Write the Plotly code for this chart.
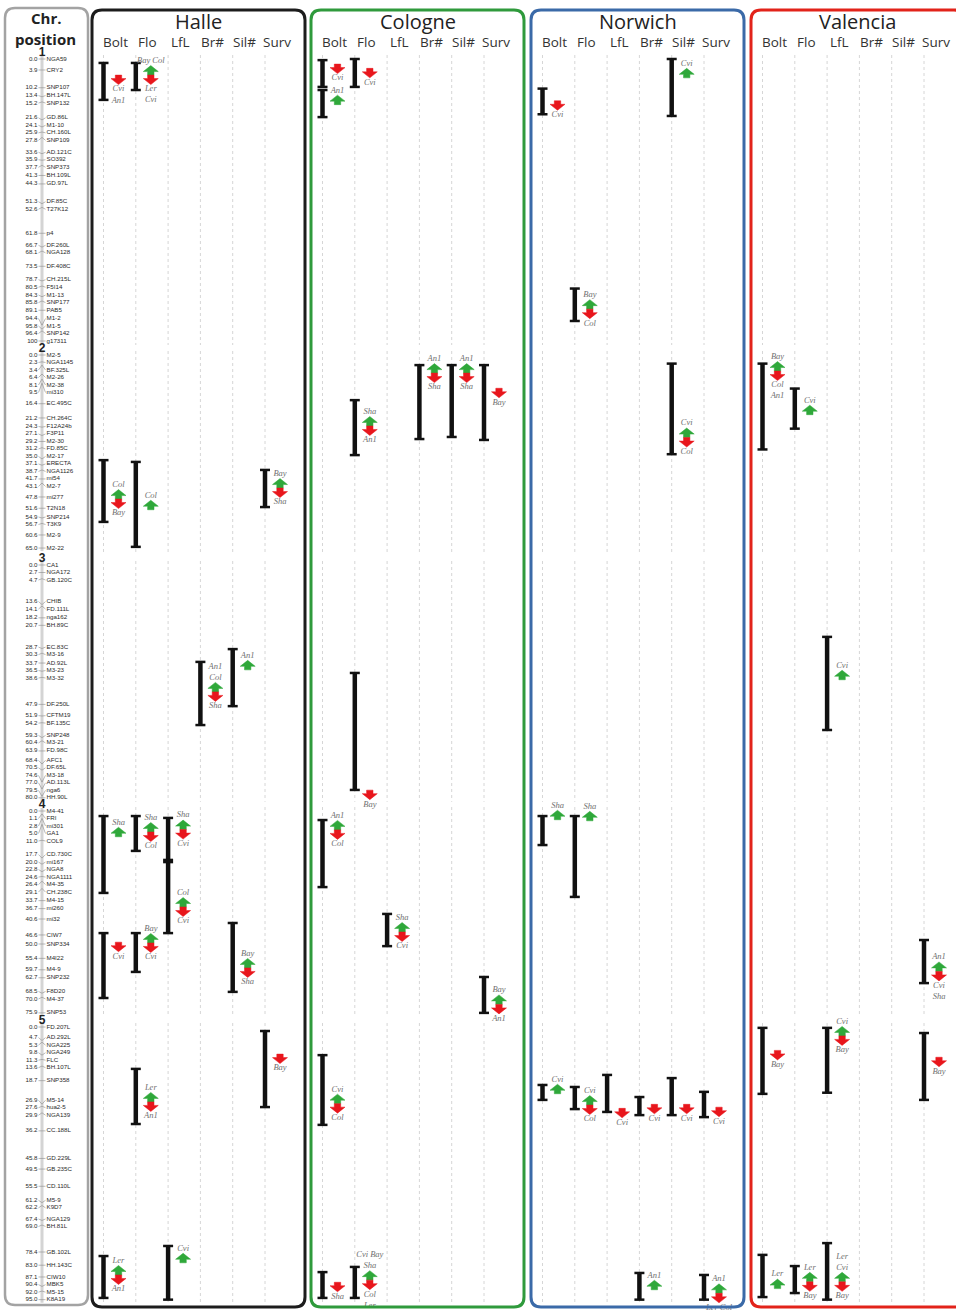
import plotly.graph_objects as go

# ------------------------------------------------------------------ data
TRAITS = ["Bolt", "Flo", "LfL", "Br#", "Sil#", "Surv"]
SITES = ["Halle", "Cologne", "Norwich", "Valencia"]

CHR1_POS = [0.0, 3.9, 10.2, 13.4, 15.2, 21.6, 24.1, 25.9, 27.8, 33.6, 35.9, 37.7, 41.3, 44.3, 51.3,
            52.6, 61.8, 66.7, 68.1, 73.5, 78.7, 80.5, 84.3, 85.8, 89.1, 94.4, 95.8, 96.4, 100]
CHR1_MARKERS = ["NGA59", "CRY2", "SNP107", "BH.147L", "SNP132", "GD.86L", "M1-10", "CH.160L", "SNP109",
                "AD.121C", "SO392", "SNP373", "BH.109L", "GD.97L", "DF.85C", "T27K12", "p4", "DF.260L",
                "NGA128", "DF.408C", "CH.215L", "F5I14", "M1-13", "SNP177", "PAB5", "M1-2", "M1-5",
                "SNP142", "g17311"]
CHR2_POS = [0.0, 2.3, 3.4, 6.4, 8.1, 9.5, 16.4, 21.2, 24.3, 27.1, 29.2, 31.2, 35.0, 37.1, 38.7, 41.7,
            43.1, 47.8, 51.6, 54.9, 56.7, 60.6, 65.0]
CHR2_MARKERS = ["M2-5", "NGA1145", "BF.325L", "M2-26", "M2-38", "mi310", "EC.495C", "CH.264C", "F12A24b",
                "F3P11", "M2-30", "FD.85C", "M2-17", "ERECTA", "NGA1126", "mi54", "M2-7", "mi277",
                "T2N18", "SNP214", "T3K9", "M2-9", "M2-22"]
CHR3_POS = [0.0, 2.7, 4.7, 13.6, 14.1, 18.2, 20.7, 28.7, 30.3, 33.7, 36.5, 38.6, 47.9, 51.9, 54.2, 59.3,
            60.4, 63.9, 68.4, 70.5, 74.6, 77.0, 79.5, 80.0]
CHR3_MARKERS = ["CA1", "NGA172", "GB.120C", "CHIB", "FD.111L", "nga162", "BH.89C", "EC.83C", "M3-16",
                "AD.92L", "M3-23", "M3-32", "DF.250L", "CFTM19", "BF.135C", "SNP248", "M3-21", "FD.98C",
                "AFC1", "DF.65L", "M3-18", "AD.113L", "nga6", "HH.90L"]
CHR4_POS = [0.0, 1.1, 2.8, 5.0, 11.0, 17.7, 20.0, 22.8, 24.6, 26.4, 29.1, 33.7, 36.7, 40.6, 46.6, 50.0,
            55.4, 59.7, 62.7, 68.5, 70.0, 75.9]
CHR4_MARKERS = ["M4-41", "FRI", "mi301", "GA1", "COL9", "CD.730C", "mi167", "NGA8", "NGA1111", "M4-35",
                "CH.238C", "M4-15", "mi260", "mi32", "CIW7", "SNP334", "M4I22", "M4-9", "SNP232",
                "F8D20", "M4-37", "SNP53"]
CHR5_POS = [0.0, 4.7, 5.3, 9.8, 11.3, 13.6, 18.7, 26.9, 27.6, 29.9, 36.2, 45.8, 49.5, 55.5, 61.2, 62.2,
            67.4, 69.0, 78.4, 83.0, 87.1, 90.4, 92.0, 95.0]
CHR5_MARKERS = ["FD.207L", "AD.292L", "NGA225", "NGA249", "FLC", "BH.107L", "SNP358", "M5-14", "hua2-5",
                "NGA139", "CC.188L", "GD.229L", "GB.235C", "CD.110L", "M5-9", "K9D7", "NGA129", "BH.81L",
                "GB.102L", "HH.143C", "CIW10", "MBK5", "M5-15", "K8A19"]

# QTL: (trait, chromosome, start cM, end cM, peak cM, increasing alleles, decreasing alleles)
HALLE_QTL = [
    ("Bolt", 1, 1.4, 14.5, 7.4, "", "Cvi|An1"),
    ("Flo", 1, 1.4, 11.0, 5.7, "Bay Col", "Ler|Cvi"),
    ("Bolt", 2, 35.4, 56.2, 48.5, "Col", "Bay"),
    ("Flo", 2, 36.0, 64.6, 50.5, "Col", ""),
    ("Surv", 2, 38.7, 51.2, 44.8, "Bay", "Sha"),
    ("Br#", 3, 33.3, 55.0, 43.6, "An1|Col", "Sha"),
    ("Sil#", 3, 28.9, 48.5, 34.4, "An1", ""),
    ("Bolt", 4, 1.9, 30.8, 7.9, "Sha", ""),
    ("Flo", 4, 1.9, 15.0, 7.9, "Sha", "Col"),
    ("LfL", 4, 2.6, 18.4, 7.0, "Sha", "Cvi"),
    ("LfL", 4, 19.2, 45.9, 36.1, "Col", "Cvi"),
    ("Bolt", 4, 45.9, 70.3, 51.1, "", "Cvi"),
    ("Flo", 4, 45.9, 60.5, 49.6, "Bay", "Cvi"),
    ("Sil#", 4, 42.1, 68.0, 59.0, "Bay", "Sha"),
    ("Surv", 5, 1.4, 27.9, 11.1, "", "Bay"),
    ("Flo", 5, 14.6, 33.8, 26.1, "Ler", "An1"),
    ("Bolt", 5, 79.8, 94.4, 86.4, "Ler", "An1"),
    ("LfL", 5, 76.3, 95.0, 80.5, "Cvi", ""),
]
COLOGNE_QTL = [
    ("Bolt", 1, 0.4, 9.9, 3.5, "", "Cvi"),
    ("Bolt", 1, 11.0, 20.6, 14.5, "An1", ""),
    ("Flo", 1, 0.0, 9.9, 5.0, "", "Cvi"),
    ("Flo", 2, 15.2, 33.7, 23.9, "Sha", "An1"),
    ("Br#", 2, 3.4, 28.3, 6.1, "An1", "Sha"),
    ("Sil#", 2, 3.4, 27.6, 6.1, "An1", "Sha"),
    ("Surv", 2, 3.4, 28.6, 12.8, "", "Bay"),
    ("Flo", 3, 37.1, 77.3, 79.0, "", "Bay"),
    ("Bolt", 4, 3.4, 28.6, 7.1, "An1", "Col"),
    ("LfL", 4, 38.7, 50.8, 45.5, "Sha", "Cvi"),
    ("Surv", 4, 62.4, 75.9, 72.7, "Bay", "An1"),
    ("Bolt", 5, 9.8, 34.1, 26.7, "Cvi", "Col"),
    ("Bolt", 5, 85.4, 94.4, 90.6, "", "Sha"),
    ("Flo", 5, 83.6, 94.4, 88.2, "Cvi Bay|Sha", "Col|Ler"),
]
NORWICH_QTL = [
    ("Bolt", 1, 10.5, 19.6, 16.5, "", "Cvi"),
    ("Sil#", 1, 0.0, 20.2, 5.0, "Cvi", ""),
    ("Flo", 1, 81.4, 92.9, 88.7, "Bay", "Col"),
    ("Sil#", 2, 2.9, 33.4, 27.8, "Cvi", "Col"),
    ("Bolt", 4, 1.9, 12.8, 1.5, "Sha", ""),
    ("Flo", 4, 1.9, 32.3, 1.9, "Sha", ""),
    ("Bolt", 5, 20.2, 25.4, 21.6, "Cvi", ""),
    ("Flo", 5, 20.9, 28.6, 27.2, "Cvi", "Col"),
    ("LfL", 5, 16.7, 29.6, 30.0, "", "Cvi"),
    ("Br#", 5, 24.4, 30.7, 28.6, "", "Cvi"),
    ("Sil#", 5, 17.8, 30.7, 28.6, "", "Cvi"),
    ("Surv", 5, 22.6, 31.4, 29.6, "", "Cvi"),
    ("Br#", 5, 85.7, 95.0, 89.9, "An1", ""),
    ("Surv", 5, 86.4, 95.0, 92.8, "An1", "Ler Col"),
]
VALENCIA_QTL = [
    ("Bolt", 2, 2.9, 31.8, 5.4, "Bay", "Col|An1"),
    ("Flo", 2, 11.3, 24.8, 18.5, "Cvi", ""),
    ("LfL", 3, 24.7, 56.7, 37.8, "Cvi", ""),
    ("Surv", 4, 48.5, 64.7, 60.3, "An1", "Cvi|Sha"),
    ("Bolt", 5, 0.3, 23.3, 9.8, "", "Bay"),
    ("LfL", 5, 0.3, 22.9, 3.1, "Cvi", "Bay"),
    ("Surv", 5, 2.1, 25.4, 12.2, "", "Bay"),
    ("Bolt", 5, 79.4, 94.1, 89.5, "Ler", ""),
    ("Flo", 5, 83.3, 92.7, 88.8, "Ler", "Bay"),
    ("LfL", 5, 75.3, 95.0, 88.8, "Ler|Cvi", "Bay"),
]

# ------------------------------------------------------------------ layout constants
PAGE_W, PAGE_H = 956, 1310
CHR_TOP = {1: 59, 2: 355, 3: 565, 4: 811, 5: 1027}           # display units (1 unit = 1 pixel)
CHR_SCALE = {1: 2.82, 2: 2.97, 3: 2.91, 4: 2.66, 5: 2.87}     # display units per cM
SITE_COLORS = ["#1c1c1c", "#2f9a3c", "#3b6aa8", "#e2231a"]
PANEL_LEFT = [92, 311, 531, 751]
PANEL_W = 213
PANEL_TOP, PANEL_BOT = 10, 1307
COL_OFF, COL_STEP = 11.5, 32.3
ARROW_DX = 15
HW, SW, HH, SH = 7.5, 3.2, 6.0, 3.5
AL = HH + SH
GREEN, RED = "#2fa83a", "#e8161c"
LABEL_GRAY = "#707070"
CHR_X = 42
LABEL_GAP = 7.5

CHROMS = {1: (CHR1_POS, CHR1_MARKERS), 2: (CHR2_POS, CHR2_MARKERS), 3: (CHR3_POS, CHR3_MARKERS),
          4: (CHR4_POS, CHR4_MARKERS), 5: (CHR5_POS, CHR5_MARKERS)}
QTL_BY_SITE = [HALLE_QTL, COLOGNE_QTL, NORWICH_QTL, VALENCIA_QTL]


def ymap(c, cm):
    return CHR_TOP[c] + cm * CHR_SCALE[c]


def col_x(site, trait):
    return PANEL_LEFT[site] + COL_OFF + COL_STEP * TRAITS.index(trait)


def spread(ys, d, lo, hi):
    clusters = []
    for y in ys:
        clusters.append([y])
        while len(clusters) > 1:
            a, b = clusters[-2], clusters[-1]
            ta = sum(a) / len(a) - (len(a) - 1) * d / 2
            tb = sum(b) / len(b) - (len(b) - 1) * d / 2
            if ta + len(a) * d > tb:
                clusters[-2] = a + b
                clusters.pop()
            else:
                break
    out = []
    for cl in clusters:
        t = sum(cl) / len(cl) - (len(cl) - 1) * d / 2
        out += [t + i * d for i in range(len(cl))]
    out[-1] = min(out[-1], hi)
    for i in range(len(out) - 2, -1, -1):
        out[i] = min(out[i], out[i + 1] - d)
    out[0] = max(out[0], lo)
    for i in range(1, len(out)):
        out[i] = max(out[i], out[i - 1] + d)
    return out


def rrect(x0, y0, x1, y1, r):
    return (f"M{x0 + r},{y0} L{x1 - r},{y0} Q{x1},{y0} {x1},{y0 + r} L{x1},{y1 - r} "
            f"Q{x1},{y1} {x1 - r},{y1} L{x0 + r},{y1} Q{x0},{y1} {x0},{y1 - r} "
            f"L{x0},{y0 + r} Q{x0},{y0} {x0 + r},{y0} Z")


fig = go.Figure()

# ---- gridlines per chromosome / column
gx, gy = [], []
for s in range(len(SITES)):
    for t in TRAITS:
        x = col_x(s, t)
        for c, (pos, _) in CHROMS.items():
            gx += [x, x, None]
            gy += [ymap(c, 0) - 4, ymap(c, max(pos)) + 4, None]
fig.add_trace(go.Scatter(x=gx, y=gy, mode="lines", line=dict(color="#d6d6d6", width=1, dash="dot"),
                         hoverinfo="skip"))

# ---- left chromosome map
cx_, cy_ = [], []
conx, cony = [], []
num_x, num_y, num_t = [], [], []
nam_x, nam_y, nam_t = [], [], []
for c, (pos, names) in CHROMS.items():
    cx_ += [CHR_X, CHR_X, None]
    cy_ += [ymap(c, 0) - 3, ymap(c, max(pos)) + 3, None]
    true_y = [ymap(c, p) for p in pos]
    lab_y = spread(true_y, LABEL_GAP, ymap(c, 0), ymap(c, max(pos)))
    for p, n, ty, ly in zip(pos, names, true_y, lab_y):
        conx += [38.5, CHR_X, 45.5, None]
        cony += [ly, ty, ly, None]
        num_x.append(37.5)
        num_y.append(ly)
        num_t.append("100" if p == 100 else f"{p:.1f}")
        nam_x.append(46.5)
        nam_y.append(ly)
        nam_t.append(n)
fig.add_trace(go.Scatter(x=cx_, y=cy_, mode="lines", line=dict(color="#d4d4d4", width=3), hoverinfo="skip"))
fig.add_trace(go.Scatter(x=conx, y=cony, mode="lines", line=dict(color="#8a8a8a", width=0.6), hoverinfo="skip"))
fig.add_trace(go.Scatter(x=num_x, y=num_y, text=num_t, mode="text", textposition="middle left",
                         textfont=dict(family="Liberation Sans", size=6.2, color="#2a2a2a"),
                         hoverinfo="skip", cliponaxis=False))
fig.add_trace(go.Scatter(x=nam_x, y=nam_y, text=nam_t, mode="text", textposition="middle right",
                         textfont=dict(family="Liberation Sans", size=6.2, color="#2a2a2a"),
                         hoverinfo="skip", cliponaxis=False))
fig.add_trace(go.Scatter(x=[CHR_X] * 5, y=[ymap(c, 0) - 6.5 for c in CHROMS], text=[str(c) for c in CHROMS],
                         mode="text", textposition="middle center",
                         textfont=dict(family="Liberation Sans", size=12, color="#222"),
                         texttemplate="<b>%{text}</b>", hoverinfo="skip", cliponaxis=False))

# ---- QTL bars, arrows, labels
bx, by, capx, capy = [], [], [], []
ugx, ugy, drx, dry = [], [], [], []
ul_x, ul_y, ul_t, dl_x, dl_y, dl_t = [], [], [], [], [], []
for s, qtls in enumerate(QTL_BY_SITE):
    for trait, c, a0, a1, pk, up, down in qtls:
        x = col_x(s, trait)
        y0, y1 = ymap(c, a0), ymap(c, a1)
        bx += [x, x, None]
        by += [y0, y1, None]
        for yy in (y0, y1):
            capx += [x - 5, x + 5, None]
            capy += [yy, yy, None]
        ax = x + ARROW_DX
        a = ymap(c, pk)
        if up and down:
            ut, dt = a - AL, a + AL
        elif up:
            ut, dt = a - AL / 2, None
        else:
            ut, dt = None, a + AL / 2
        if up:
            ugx += [ax, ax + HW, ax + SW, ax + SW, ax - SW, ax - SW, ax - HW, ax, None]
            ugy += [ut, ut + HH, ut + HH, ut + AL, ut + AL, ut + HH, ut + HH, ut, None]
            ul_x.append(ax)
            ul_y.append(ut - 0.5)
            ul_t.append("<i>" + up.replace("|", "<br>") + "</i>")
        if down:
            drx += [ax, ax + HW, ax + SW, ax + SW, ax - SW, ax - SW, ax - HW, ax, None]
            dry += [dt, dt - HH, dt - HH, dt - AL, dt - AL, dt - HH, dt - HH, dt, None]
            dl_x.append(ax)
            dl_y.append(dt + 0.5)
            dl_t.append("<i>" + down.replace("|", "<br>") + "</i>")

fig.add_trace(go.Scatter(x=bx, y=by, mode="lines", line=dict(color="#111", width=4.5), hoverinfo="skip"))
fig.add_trace(go.Scatter(x=capx, y=capy, mode="lines", line=dict(color="#111", width=2.5), hoverinfo="skip"))
fig.add_trace(go.Scatter(x=ugx, y=ugy, mode="lines", fill="toself", fillcolor=GREEN,
                         line=dict(color=GREEN, width=0.5), hoverinfo="skip"))
fig.add_trace(go.Scatter(x=drx, y=dry, mode="lines", fill="toself", fillcolor=RED,
                         line=dict(color=RED, width=0.5), hoverinfo="skip"))
fig.add_trace(go.Scatter(x=ul_x, y=ul_y, text=ul_t, mode="text", textposition="top center",
                         textfont=dict(family="Liberation Serif", size=8.5, color=LABEL_GRAY),
                         hoverinfo="skip", cliponaxis=False))
fig.add_trace(go.Scatter(x=dl_x, y=dl_y, text=dl_t, mode="text", textposition="bottom center",
                         textfont=dict(family="Liberation Serif", size=8.5, color=LABEL_GRAY),
                         hoverinfo="skip", cliponaxis=False))

# ---- panel borders and headers
shapes = [dict(type="path", xref="x", yref="y", path=rrect(5, 8, 88, 1305, 10),
               line=dict(color="#a3a3a3", width=2.5))]
annotations = [
    dict(x=46, y=18, text="<b>Chr.</b>", showarrow=False, xref="x", yref="y",
         font=dict(family="Open Sans", size=15, color="#222")),
    dict(x=45, y=39, text="<b>position</b>", showarrow=False, xref="x", yref="y",
         font=dict(family="Open Sans", size=15, color="#222")),
]
for s, site in enumerate(SITES):
    x0 = PANEL_LEFT[s]
    shapes.append(dict(type="path", xref="x", yref="y",
                       path=rrect(x0, PANEL_TOP, x0 + PANEL_W, PANEL_BOT, 10),
                       line=dict(color=SITE_COLORS[s], width=3)))
    annotations.append(dict(x=x0 + PANEL_W / 2, y=21, text=site, showarrow=False, xref="x", yref="y",
                            font=dict(family="Open Sans", size=20, color="#222")))
    for t in TRAITS:
        annotations.append(dict(x=col_x(s, t) + 12, y=42, text=t, showarrow=False, xref="x", yref="y",
                                font=dict(family="Open Sans", size=13.5, color="#333")))

fig.update_layout(
    width=PAGE_W, height=PAGE_H, margin=dict(l=0, r=0, t=0, b=0),
    paper_bgcolor="white", plot_bgcolor="white", showlegend=False,
    xaxis=dict(range=[0, PAGE_W], visible=False, fixedrange=True),
    yaxis=dict(range=[PAGE_H, 0], visible=False, fixedrange=True),
    shapes=shapes, annotations=annotations,
)
fig.write_html("out.html", config={"displayModeBar": False},
               post_script="document.body.style.margin='0';document.body.style.overflow='hidden';")
